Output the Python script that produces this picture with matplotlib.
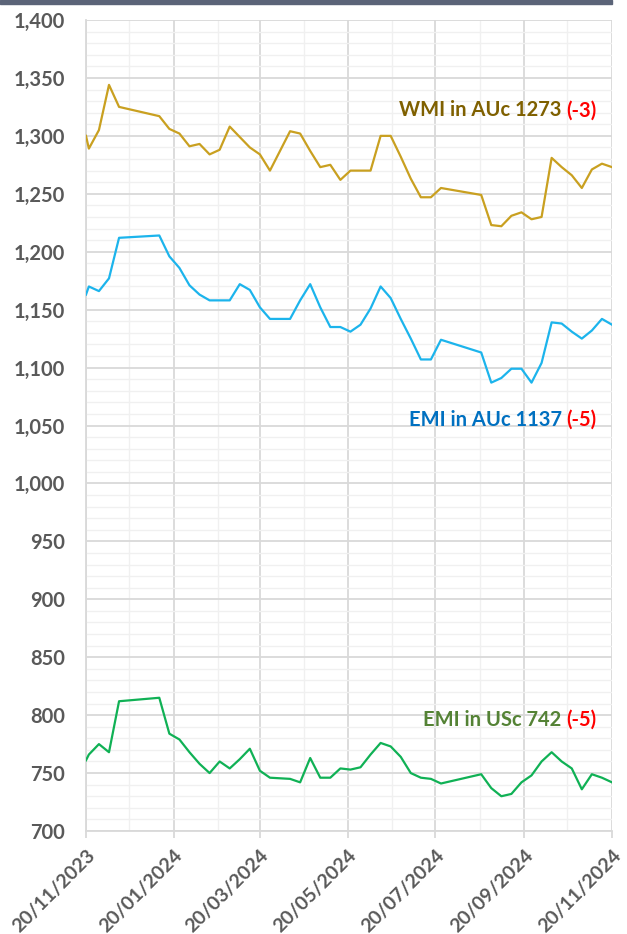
#!/usr/bin/env python3
"""Weekly wool indicators: WMI / EMI in AUc and EMI in USc."""

import matplotlib
matplotlib.use("Agg")
import matplotlib.pyplot as plt
import matplotlib.dates as mdates
import matplotlib.transforms as mtransforms
from matplotlib.patches import Rectangle
from matplotlib.ticker import FuncFormatter, MultipleLocator
import pandas as pd

# sale dates (weekly, with recess gaps)
dates = pd.to_datetime([
    "2023-11-20", "2023-11-22", "2023-11-29", "2023-12-06", "2023-12-13",
    "2024-01-10", "2024-01-17", "2024-01-24", "2024-01-31",
    "2024-02-07", "2024-02-14", "2024-02-21", "2024-02-28",
    "2024-03-06", "2024-03-13", "2024-03-20", "2024-03-27",
    "2024-04-10", "2024-04-17", "2024-04-24",
    "2024-05-01", "2024-05-08", "2024-05-15", "2024-05-22", "2024-05-29",
    "2024-06-05", "2024-06-12", "2024-06-19", "2024-06-26",
    "2024-07-03", "2024-07-10", "2024-07-17", "2024-07-24",
    "2024-08-21", "2024-08-28",
    "2024-09-04", "2024-09-11", "2024-09-18", "2024-09-25",
    "2024-10-02", "2024-10-09", "2024-10-16", "2024-10-23", "2024-10-30",
    "2024-11-06", "2024-11-13", "2024-11-20",
])

wmi_auc = [
    1300, 1289, 1305, 1344, 1325,
    1317, 1306, 1302, 1291,
    1293, 1284, 1288, 1308,
    1299, 1290, 1284, 1270,
    1304, 1302, 1287,
    1273, 1275, 1262, 1270, 1270,
    1270, 1300, 1300, 1282,
    1263, 1247, 1247, 1255,
    1249, 1223,
    1222, 1231, 1234, 1228,
    1230, 1281, 1273, 1266, 1255,
    1271, 1276, 1273,
]

emi_auc = [
    1163, 1170, 1166, 1177, 1212,
    1214, 1196, 1186, 1171,
    1163, 1158, 1158, 1158,
    1172, 1167, 1152, 1142,
    1142, 1158, 1172,
    1152, 1135, 1135, 1131, 1137,
    1151, 1170, 1160, 1142,
    1125, 1107, 1107, 1124,
    1113, 1087,
    1091, 1099, 1099, 1087,
    1104, 1139, 1138, 1131, 1125,
    1132, 1142, 1137,
]

emi_usc = [
    761, 766, 775, 768, 812,
    815, 784, 779, 768,
    758, 750, 760, 754,
    762, 771, 752, 746,
    745, 742, 763,
    746, 746, 754, 753, 755,
    766, 776, 773, 764,
    750, 746, 745, 741,
    749, 737,
    730, 732, 742, 748,
    760, 768, 760, 754, 736,
    749, 746, 742,
]

tick_dates = pd.to_datetime([
    "2023-11-20", "2024-01-20", "2024-03-20", "2024-05-20",
    "2024-07-20", "2024-09-20", "2024-11-20",
])
minor_dates = pd.to_datetime([
    "2023-12-20", "2024-02-20", "2024-04-20", "2024-06-20",
    "2024-08-20", "2024-10-20",
])
tick_labels = ["20/11/2023", "20/01/2024", "20/03/2024", "20/05/2024",
               "20/07/2024", "20/09/2024", "20/11/2024"]

# (main text, change, text colour, y position)
labels = [
    ("WMI in AUc 1273 ", "(-3)", "#7F6000", 1322),
    ("EMI in AUc 1137 ", "(-5)", "#0070C0", 1055),
    ("EMI in USc 742 ", "(-5)", "#548235", 796),
]

plt.rcParams["font.family"] = ["Lato", "DejaVu Sans"]
plt.rcParams["font.weight"] = "bold"

fig = plt.figure(figsize=(6.27, 9.34), dpi=100)
ax = fig.add_axes([86 / 627, 1 - 831 / 934, 526 / 627, 811 / 934])

ax.plot(dates, wmi_auc, color="#C9A020", lw=1.6, zorder=3)
ax.plot(dates, emi_auc, color="#1CB4EC", lw=1.6, zorder=3)
ax.plot(dates, emi_usc, color="#10B155", lw=1.6, zorder=3)

ax.set_xlim(tick_dates[0], tick_dates[-1])
ax.set_ylim(700, 1400)
ax.yaxis.set_major_locator(MultipleLocator(50))
ax.yaxis.set_minor_locator(MultipleLocator(10))
ax.yaxis.set_major_formatter(FuncFormatter(lambda v, _: f"{v:,.0f}"))

ax.set_xticks(mdates.date2num(tick_dates))
ax.set_xticklabels(tick_labels, rotation=45, ha="right", va="top",
                   rotation_mode="anchor")
ax.set_xticks(mdates.date2num(minor_dates), minor=True)

ax.grid(True, which="major", color="#D9D9D9", lw=1.3, zorder=0)
ax.grid(True, which="minor", color="#F0F0F0", lw=1.0, zorder=0)
ax.set_axisbelow(True)

for side in ("top", "right"):
    ax.spines[side].set_visible(False)
for side in ("left", "bottom"):
    ax.spines[side].set_color("#D9D9D9")
    ax.spines[side].set_linewidth(1.3)

ax.tick_params(axis="y", which="both", length=0, pad=15,
               labelsize=14.5, labelcolor="#595959")
ax.tick_params(axis="x", which="major", length=5, color="#D9D9D9",
               width=1.3, pad=6, labelsize=14, labelcolor="#595959")
ax.tick_params(axis="x", which="minor", length=0)

trans = mtransforms.blended_transform_factory(ax.transAxes, ax.transData)
for main, change, colour, ypos in labels:
    red = ax.text(0.971, ypos, change, transform=trans, ha="right",
                  va="center", color="#FF0000", fontsize=14.5, fontweight="bold")
    ax.annotate(main, xy=(0, 0.5), xycoords=red, ha="right", va="center",
                color=colour, fontsize=14.5, fontweight="bold")

# thin dark band along the top edge
fig.patches.append(Rectangle((0, 1 - 4 / 934), 612 / 627, 4 / 934,
                             transform=fig.transFigure, color="#5B6478",
                             zorder=0))

fig.savefig("out.png", dpi=100)
